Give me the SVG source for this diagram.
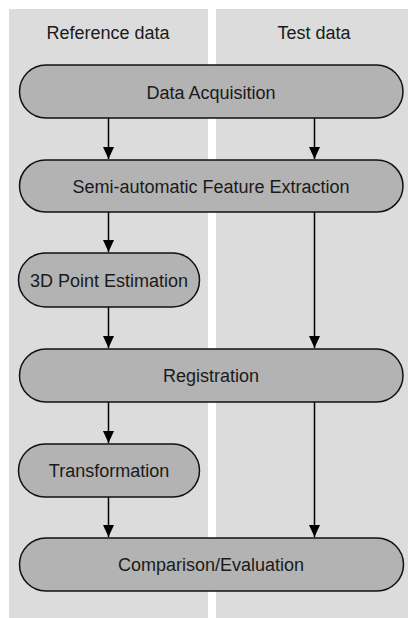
<svg xmlns="http://www.w3.org/2000/svg" width="408" height="618" viewBox="0 0 408 618">
<defs>
<style>
.lane{fill:#dcdcdc}
.node rect{fill:#b3b3b3;stroke:#111;stroke-width:1.5}
text{font-family:"Liberation Sans",Arial,sans-serif;font-size:18px;fill:#1a1a1a;text-anchor:middle}
.edge{stroke:#000;stroke-width:1.5;fill:none;marker-end:url(#ah)}
</style>
<marker id="ah" viewBox="0 0 12 11" refX="12" refY="5.5" markerWidth="12" markerHeight="11" markerUnits="userSpaceOnUse" orient="auto">
<path d="M0,0 L12,5.5 L0,11 Z" fill="#000"/>
</marker>
</defs>
<rect width="408" height="618" fill="#fff"/>
<g id="lanes">
<rect class="lane" x="9" y="9" width="199" height="609"/>
<rect class="lane" x="216" y="9" width="192" height="609"/>
<text x="108" y="39">Reference data</text>
<text x="314" y="39">Test data</text>
</g>
<g id="connectors">
<path class="edge" d="M108.5,118 V159"/>
<path class="edge" d="M314.5,118 V159"/>
<path class="edge" d="M108.5,212 V252"/>
<path class="edge" d="M314.5,212 V348"/>
<path class="edge" d="M108.5,307 V348"/>
<path class="edge" d="M108.5,402 V443"/>
<path class="edge" d="M314.5,402 V537"/>
<path class="edge" d="M108.5,497 V537"/>
</g>
<g id="n1" class="node"><rect x="19.5" y="65" width="383.5" height="53" rx="26.5"/><text x="211" y="99">Data Acquisition</text></g>
<g id="n2" class="node"><rect x="19.5" y="160" width="383.5" height="52" rx="26"/><text x="211" y="193">Semi-automatic Feature Extraction</text></g>
<g id="n3" class="node"><rect x="18.5" y="253" width="181" height="54" rx="27"/><text x="109" y="287">3D Point Estimation</text></g>
<g id="n4" class="node"><rect x="19.5" y="349" width="383.5" height="53" rx="26.5"/><text x="211" y="382">Registration</text></g>
<g id="n5" class="node"><rect x="18.5" y="444" width="181" height="53" rx="26.5"/><text x="109" y="477">Transformation</text></g>
<g id="n6" class="node"><rect x="19.5" y="538" width="384" height="53" rx="26.5"/><text x="211" y="571">Comparison/Evaluation</text></g>
</svg>
